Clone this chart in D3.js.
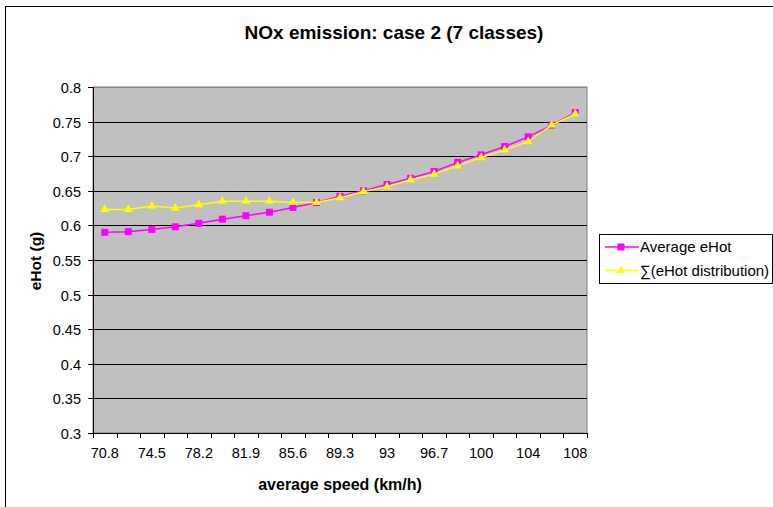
<!DOCTYPE html>
<html><head><meta charset="utf-8">
<script src="https://cdn.jsdelivr.net/npm/d3@7/dist/d3.min.js"></script>
<style>body{margin:0;background:#fff}svg{display:block}text{font-family:"Liberation Sans",Arial,sans-serif}</style>
</head><body><svg id="c" width="773" height="507"></svg>
<script>
const categories = ["70.8","72.65","74.5","76.35","78.2","80.05","81.9","83.75","85.6","87.45","89.3","91.15","93","94.85","96.7","98.55","100","102","104","106","108"];
const averageEHot = [0.590,0.591,0.594,0.598,0.603,0.609,0.614,0.619,0.626,0.633,0.642,0.650,0.659,0.668,0.678,0.691,0.702,0.714,0.728,0.745,0.763];
const sumDistribution = [0.623,0.623,0.628,0.625,0.630,0.635,0.635,0.635,0.633,0.633,0.640,0.649,0.656,0.666,0.674,0.686,0.698,0.709,0.721,0.745,0.761];
const yTicks = [0.3,0.35,0.4,0.45,0.5,0.55,0.6,0.65,0.7,0.75,0.8];
const seriesNames = ["Average eHot","\u2211(eHot distribution)"];

const svg = d3.select("#c");
const L=93,R=587,T=87,B=433;
svg.append("rect").attr("x",5.5).attr("y",6.5).attr("width",800).attr("height",520)
  .attr("fill","#fff").attr("stroke","#000").attr("stroke-width",1);

const x = d3.scaleBand().domain(d3.range(categories.length)).range([L,R]).padding(0);
const y = d3.scaleLinear().domain([0.3,0.8]).range([B,T]);
const cx = i => x(i)+x.bandwidth()/2;

svg.append("rect").attr("x",L).attr("y",T).attr("width",R-L).attr("height",B-T)
  .attr("fill","#C0C0C0").attr("stroke","#808080").attr("stroke-width",1);
svg.append("g").selectAll("line").data(yTicks.filter(v=>v>0.3&&v<0.8)).join("line")
  .attr("x1",L).attr("x2",R).attr("y1",d=>Math.round(y(d))+0.5).attr("y2",d=>Math.round(y(d))+0.5)
  .attr("stroke","#000").attr("stroke-width",1);
svg.append("line").attr("x1",L).attr("x2",R).attr("y1",T+0.5).attr("y2",T+0.5).attr("stroke","#808080");
svg.append("line").attr("x1",L+0.5).attr("x2",L+0.5).attr("y1",T).attr("y2",B).attr("stroke","#000");
svg.append("line").attr("x1",L).attr("x2",R+1).attr("y1",B+0.5).attr("y2",B+0.5).attr("stroke","#000");
const yg = svg.append("g");
yTicks.forEach(v=>{
  const yy=Math.round(y(v))+0.5;
  yg.append("line").attr("x1",L-5).attr("x2",L).attr("y1",yy).attr("y2",yy).attr("stroke","#000");
  yg.append("text").attr("x",L-12).attr("y",yy).attr("dy","0.35em").attr("text-anchor","end")
    .attr("font-size",14.5).text(String(v));
});
const xg = svg.append("g");
d3.range(categories.length+1).forEach(i=>{
  const xx = Math.round(i<categories.length?x(i):R)+0.5;
  xg.append("line").attr("x1",xx).attr("x2",xx).attr("y1",B).attr("y2",B+5).attr("stroke","#000");
});
categories.forEach((c,i)=>{
  if(i%2===0) xg.append("text").attr("x",cx(i)).attr("y",458).attr("text-anchor","middle")
    .attr("font-size",14.5).text(c);
});
svg.append("text").attr("x",394).attr("y",39).attr("text-anchor","middle").attr("font-size",19)
  .attr("font-weight","bold").text("NOx emission: case 2 (7 classes)");
svg.append("text").attr("x",340).attr("y",490).attr("text-anchor","middle").attr("font-size",16)
  .attr("font-weight","bold").text("average speed (km/h)");
svg.append("text").attr("transform","translate(41,261) rotate(-90)").attr("text-anchor","middle")
  .attr("font-size",15.5).attr("font-weight","bold").text("eHot (g)");

const line = d3.line().x((d,i)=>cx(i)).y(d=>y(d));
svg.append("path").datum(averageEHot).attr("d",line).attr("fill","none").attr("stroke","#FF00FF").attr("stroke-width",1.5);
svg.append("g").selectAll("rect").data(averageEHot).join("rect")
  .attr("x",(d,i)=>cx(i)-3.5).attr("y",d=>y(d)-3.5).attr("width",7).attr("height",7).attr("fill","#FF00FF");
svg.append("path").datum(sumDistribution).attr("d",line).attr("fill","none").attr("stroke","#FFFF00").attr("stroke-width",1.5);
const tri = d3.symbol().type(d3.symbolTriangle).size(34);
svg.append("g").selectAll("path").data(sumDistribution).join("path")
  .attr("transform",(d,i)=>`translate(${cx(i)},${y(d)})`).attr("d",tri).attr("fill","#FFFF00");

const lg = svg.append("g");
lg.append("rect").attr("x",599.5).attr("y",234.5).attr("width",173).attr("height",49)
  .attr("fill","#fff").attr("stroke","#000");
const colors=["#FF00FF","#FFFF00"];
seriesNames.forEach((n,k)=>{
  const yy = 247+k*23.5;
  lg.append("line").attr("x1",605).attr("x2",639).attr("y1",yy).attr("y2",yy).attr("stroke",colors[k]).attr("stroke-width",1.5);
  if(k===0) lg.append("rect").attr("x",617.5).attr("y",yy-3.5).attr("width",7).attr("height",7).attr("fill",colors[k]);
  else lg.append("path").attr("transform",`translate(621,${yy})`).attr("d",tri).attr("fill",colors[k]);
  lg.append("text").attr("x",640).attr("y",yy).attr("dy","0.35em").attr("font-size",15).text(n);
});
</script></body></html>
